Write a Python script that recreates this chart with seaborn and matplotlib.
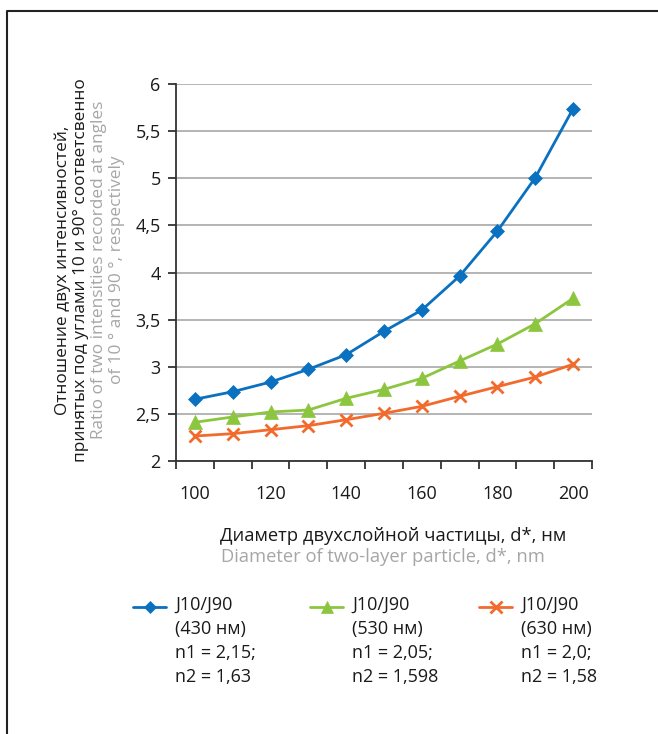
import matplotlib
matplotlib.use("Agg")
import matplotlib.pyplot as plt
import seaborn as sns
import pandas as pd
from matplotlib.lines import Line2D

# ---- data ----
diameters = [100, 110, 120, 130, 140, 150, 160, 170, 180, 190, 200]
ratio_430 = [2.655, 2.735, 2.838, 2.973, 3.128, 3.376, 3.602, 3.963, 4.44, 5.006, 5.738]
ratio_530 = [2.411, 2.467, 2.52, 2.541, 2.665, 2.76, 2.877, 3.061, 3.241, 3.457, 3.726]
ratio_630 = [2.265, 2.29, 2.332, 2.375, 2.438, 2.506, 2.58, 2.686, 2.789, 2.891, 3.026]
series_names = ["430", "530", "630"]
legend_labels = [
    "J10/J90\n(430 нм)\nn1 = 2,15;\nn2 = 1,63",
    "J10/J90\n(530 нм)\nn1 = 2,05;\nn2 = 1,598",
    "J10/J90\n(630 нм)\nn1 = 2,0;\nn2 = 1,58",
]
x_tick_values = [100, 120, 140, 160, 180, 200]
y_tick_values = [2, 2.5, 3, 3.5, 4, 4.5, 5, 5.5, 6]
y_tick_labels = ["2", "2,5", "3", "3,5", "4", "4,5", "5", "5,5", "6"]

colors = {"430": "#0A70C0", "530": "#8CC63F", "630": "#F26A2C"}
markers = {"430": "D", "530": "^", "630": "x"}
msizes = {"430": 7, "530": 10, "630": 9}
mews = {"430": 0.5, "530": 0.5, "630": 2.0}

data = {"430": ratio_430, "530": ratio_530, "630": ratio_630}

sns.set_theme(style="white")
plt.rcParams["font.family"] = ["Open Sans", "DejaVu Sans"]

fig = plt.figure(figsize=(6.58, 7.34), dpi=100)
ax = fig.add_axes([176 / 658, 1 - 461 / 734, 416 / 658, 377 / 734])

for s in series_names:
    df = pd.DataFrame({"d": diameters, "ratio": data[s]})
    sns.lineplot(data=df, x="d", y="ratio", color=colors[s], marker=markers[s],
                 markersize=msizes[s], markeredgewidth=mews[s], markeredgecolor=colors[s],
                 markerfacecolor=colors[s], linewidth=2.0, ax=ax)

ax.set_xlim(95, 205)
ax.set_ylim(2, 6)
ax.set_xticks(x_tick_values)
ax.set_xticklabels([str(v) for v in x_tick_values])
ax.set_xticks(list(range(95, 206, 10)), minor=True)
ax.tick_params(axis="x", which="major", length=0, pad=17, labelsize=13, colors="#1a1a1a")
ax.tick_params(axis="x", which="minor", length=6, width=1.3, color="#333333", direction="out", bottom=True)
ax.set_yticks(y_tick_values)
ax.set_yticklabels(y_tick_labels)
ax.tick_params(axis="y", length=6, width=1.3, color="#333333", direction="out", left=True,
               labelsize=13, pad=5, labelcolor="#1a1a1a")

ax.yaxis.grid(True, color="#A8A8A8", linewidth=1.2)
ax.xaxis.grid(False)
ax.set_axisbelow(True)
for s in ["top", "right"]:
    ax.spines[s].set_visible(False)
for s in ["left", "bottom"]:
    ax.spines[s].set_color("#333333")
    ax.spines[s].set_linewidth(1.3)
ax.set_xlabel("")
ax.set_ylabel("")

# y-axis titles
ycen = 1 - 270 / 734
fig.text(63 / 658, ycen, "Отношение двух интенсивностей,", rotation=90, ha="center", va="center",
         fontsize=12.4, color="#1a1a1a")
fig.text(81 / 658, ycen, "принятых под углами 10 и 90° соответсвенно", rotation=90, ha="center",
         va="center", fontsize=12.4, color="#1a1a1a")
fig.text(99 / 658, ycen, "Ratio of two intensities recorded at angles", rotation=90, ha="center",
         va="center", fontsize=12.4, color="#A6A6A6")
fig.text(117 / 658, ycen, "of 10 ° and 90 °, respectively", rotation=90, ha="center",
         va="center", fontsize=12.4, color="#A6A6A6")

# x-axis titles
fig.text(220 / 658, 1 - 536 / 734, "Диаметр двухслойной частицы, d*, нм", ha="left", va="center",
         fontsize=13.2, color="#1a1a1a")
fig.text(221 / 658, 1 - 557 / 734, "Diameter of two-layer particle, d*, nm", ha="left", va="center",
         fontsize=13.2, color="#A6A6A6")

# legend
leg_x = [133, 310, 479]
for i, s in enumerate(series_names):
    x0 = leg_x[i] / 658
    x1 = (leg_x[i] + 33) / 658
    yy = 1 - 607 / 734
    ms = {"430": 6, "530": 8, "630": 9}[s]
    fig.add_artist(Line2D([x0, x1], [yy, yy], color=colors[s], linewidth=2.0,
                          transform=fig.transFigure))
    fig.add_artist(Line2D([(x0 + x1) / 2], [yy], marker=markers[s], markersize=ms,
                          color=colors[s], markeredgewidth=mews[s],
                          transform=fig.transFigure))
    fig.text(x1 + 9 / 658, 1 - 596 / 734, legend_labels[i], ha="left", va="top",
             fontsize=13, color="#1a1a1a", linespacing=1.42)

# frame
fig.add_artist(Line2D([7 / 658, 7 / 658, 1.0], [0.0, 1 - 11 / 734, 1 - 11 / 734],
                      color="#222222", linewidth=1.5, transform=fig.transFigure))

fig.savefig("out.png", dpi=100)
